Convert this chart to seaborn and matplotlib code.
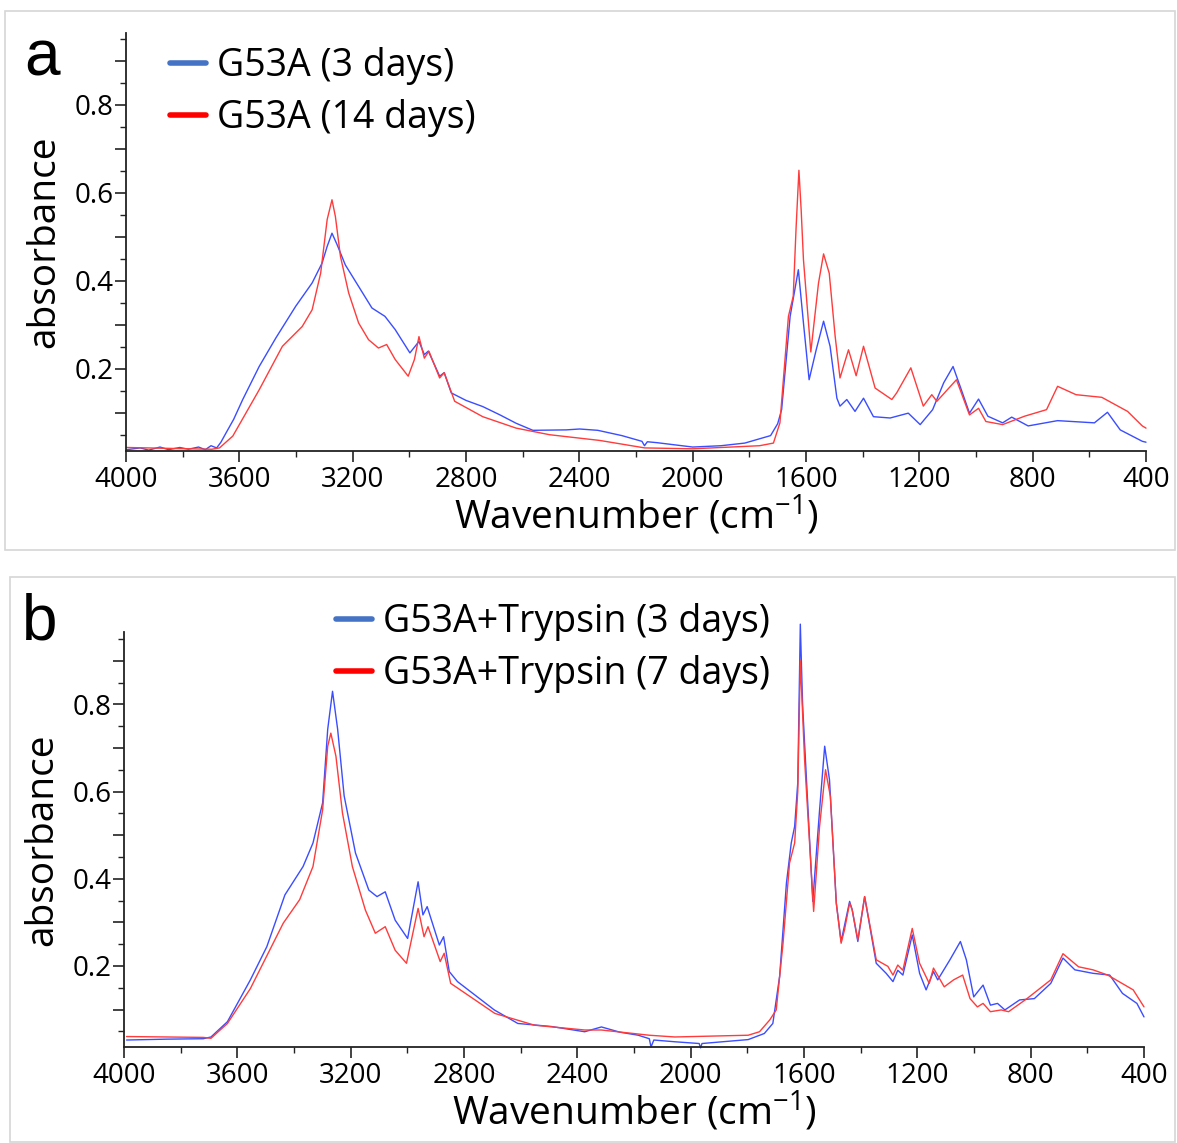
import matplotlib
matplotlib.use("Agg")
import matplotlib.pyplot as plt
from matplotlib.patches import Rectangle
from matplotlib.lines import Line2D
from matplotlib.ticker import MultipleLocator, FixedFormatter, FixedLocator
import seaborn as sns
import pandas as pd

# panel a: G53A, 3 days vs 14 days
a_blue_wn = [3998, 3950, 3920, 3880, 3850, 3810, 3780, 3744, 3720, 3700, 3680, 3665, 3647, 3620, 3588,
             3530, 3471, 3401, 3343, 3308, 3290, 3273, 3255, 3226, 3179, 3132, 3086, 3050, 2998, 2966,
             2947, 2933, 2893, 2877, 2852, 2800, 2741, 2680, 2623, 2564, 2446, 2399, 2335, 2250, 2179,
             2170, 2160, 2127, 2000, 1900, 1816, 1725, 1700, 1686, 1656, 1627, 1609, 1589, 1564, 1538,
             1515, 1491, 1480, 1456, 1427, 1397, 1362, 1303, 1239, 1197, 1153, 1114, 1081, 1056, 1023,
             991, 958, 906, 874, 816, 712, 582, 536, 491, 413, 400]
a_blue_abs = [0.016, 0.020, 0.015, 0.022, 0.016, 0.021, 0.017, 0.022, 0.016, 0.025, 0.020, 0.033, 0.054,
              0.085, 0.130, 0.205, 0.270, 0.342, 0.395, 0.440, 0.478, 0.508, 0.482, 0.436, 0.387, 0.338,
              0.319, 0.289, 0.236, 0.262, 0.232, 0.240, 0.183, 0.191, 0.145, 0.128, 0.114, 0.095, 0.076,
              0.060, 0.061, 0.063, 0.060, 0.048, 0.035, 0.025, 0.034, 0.032, 0.022, 0.025, 0.031, 0.048,
              0.075, 0.107, 0.319, 0.425, 0.304, 0.175, 0.243, 0.308, 0.251, 0.133, 0.115, 0.130, 0.103,
              0.133, 0.091, 0.088, 0.099, 0.073, 0.107, 0.168, 0.205, 0.160, 0.099, 0.131, 0.092, 0.077,
              0.090, 0.070, 0.082, 0.077, 0.101, 0.061, 0.035, 0.033]

a_red_wn = [3998, 3850, 3697, 3670, 3623, 3530, 3448, 3378, 3343, 3313, 3290, 3273, 3261, 3243, 3214,
            3179, 3144, 3109, 3080, 3050, 3004, 2982, 2966, 2947, 2931, 2893, 2877, 2840, 2741, 2623,
            2505, 2328, 2169, 2000, 1764, 1715, 1692, 1662, 1645, 1635, 1625, 1617, 1609, 1583, 1556,
            1538, 1518, 1497, 1480, 1450, 1423, 1397, 1356, 1297, 1280, 1230, 1186, 1156, 1138, 1069,
            1023, 991, 965, 906, 829, 751, 712, 647, 556, 465, 413, 400]
a_red_abs = [0.021, 0.019, 0.017, 0.020, 0.047, 0.152, 0.251, 0.296, 0.334, 0.417, 0.539, 0.584, 0.546,
             0.455, 0.372, 0.304, 0.266, 0.247, 0.255, 0.221, 0.183, 0.221, 0.273, 0.224, 0.240, 0.179,
             0.191, 0.126, 0.091, 0.065, 0.050, 0.037, 0.020, 0.018, 0.025, 0.031, 0.077, 0.319, 0.365,
             0.520, 0.651, 0.560, 0.448, 0.238, 0.394, 0.461, 0.417, 0.273, 0.179, 0.243, 0.184, 0.251,
             0.156, 0.130, 0.145, 0.202, 0.115, 0.141, 0.126, 0.175, 0.095, 0.110, 0.080, 0.073, 0.092,
             0.107, 0.160, 0.141, 0.135, 0.103, 0.070, 0.065]

# panel b: G53A+Trypsin, 3 days vs 7 days
b_blue_wn = [3991, 3850, 3720, 3693, 3635, 3554, 3496, 3432, 3368, 3333, 3299, 3281, 3264, 3246, 3223,
             3183, 3136, 3107, 3078, 3043, 2999, 2962, 2945, 2930, 2887, 2872, 2852, 2823, 2693, 2610,
             2492, 2374, 2315, 2250, 2185, 2146, 2140, 2130, 2056, 1970, 1965, 1960, 1797, 1740, 1710,
             1686, 1662, 1645, 1633, 1622, 1613, 1605, 1598, 1569, 1545, 1527, 1510, 1486, 1469, 1439,
             1430, 1410, 1386, 1345, 1310, 1286, 1269, 1251, 1218, 1192, 1169, 1143, 1128, 1085, 1048,
             1027, 1001, 968, 942, 917, 891, 839, 787, 729, 686, 644, 580, 521, 476, 425, 400]
b_blue_abs = [0.030, 0.032, 0.033, 0.037, 0.072, 0.168, 0.244, 0.363, 0.428, 0.482, 0.574, 0.743, 0.830,
              0.743, 0.590, 0.459, 0.374, 0.359, 0.370, 0.305, 0.263, 0.393, 0.317, 0.336, 0.248, 0.267,
              0.187, 0.164, 0.099, 0.068, 0.061, 0.049, 0.060, 0.048, 0.041, 0.033, 0.014, 0.030, 0.026,
              0.022, 0.012, 0.022, 0.031, 0.045, 0.068, 0.176, 0.390, 0.482, 0.520, 0.620, 0.984, 0.800,
              0.712, 0.348, 0.558, 0.704, 0.627, 0.344, 0.256, 0.348, 0.329, 0.256, 0.359, 0.206, 0.183,
              0.164, 0.190, 0.179, 0.271, 0.183, 0.145, 0.187, 0.168, 0.214, 0.256, 0.214, 0.129, 0.156,
              0.110, 0.114, 0.099, 0.122, 0.125, 0.160, 0.218, 0.191, 0.183, 0.179, 0.137, 0.114, 0.083]

b_red_wn = [3991, 3850, 3720, 3693, 3635, 3554, 3438, 3380, 3333, 3299, 3281, 3270, 3252, 3229, 3194,
            3148, 3113, 3078, 3043, 3003, 2962, 2941, 2927, 2884, 2870, 2847, 2691, 2551, 2374, 2315,
            2146, 2056, 1797, 1757, 1721, 1698, 1674, 1651, 1633, 1622, 1613, 1605, 1598, 1566, 1545,
            1524, 1507, 1486, 1469, 1457, 1439, 1430, 1410, 1386, 1345, 1304, 1286, 1269, 1251, 1218,
            1192, 1158, 1143, 1105, 1072, 1040, 1014, 988, 968, 942, 904, 878, 813, 729, 686, 631, 580,
            528, 438, 400]
b_red_abs = [0.038, 0.037, 0.036, 0.034, 0.068, 0.148, 0.298, 0.352, 0.428, 0.558, 0.704, 0.734, 0.681,
             0.551, 0.428, 0.328, 0.275, 0.290, 0.236, 0.206, 0.332, 0.267, 0.290, 0.210, 0.229, 0.160,
             0.091, 0.064, 0.053, 0.053, 0.041, 0.037, 0.041, 0.049, 0.076, 0.099, 0.252, 0.436, 0.482,
             0.600, 0.900, 0.780, 0.674, 0.325, 0.520, 0.650, 0.589, 0.344, 0.252, 0.283, 0.344, 0.329,
             0.260, 0.359, 0.214, 0.199, 0.179, 0.202, 0.190, 0.286, 0.206, 0.160, 0.195, 0.152, 0.168,
             0.179, 0.125, 0.106, 0.114, 0.095, 0.099, 0.095, 0.125, 0.168, 0.228, 0.198, 0.191, 0.179,
             0.145, 0.106]

a_labels = ["G53A (3 days)", "G53A (14 days)"]
b_labels = ["G53A+Trypsin (3 days)", "G53A+Trypsin (7 days)"]

W, H = 1177, 1143
sns.set_style("white")
plt.rcParams['font.family'] = ['Open Sans', 'DejaVu Sans']
plt.rcParams['mathtext.fontset'] = 'custom'
plt.rcParams['mathtext.rm'] = 'Open Sans'
plt.rcParams['mathtext.it'] = 'Open Sans'
plt.rcParams['text.color'] = 'black'
plt.rcParams['axes.labelcolor'] = 'black'
plt.rcParams['xtick.color'] = 'black'
plt.rcParams['ytick.color'] = 'black'

fig = plt.figure(figsize=(W / 100, H / 100), dpi=100)

line_blue = "#3a4dff"
line_red = "#ff3b3b"
leg_blue = "#4472c4"
leg_red = "#ff0000"


def px(x0, y0, x1, y1):
    # pixel box (top-left origin) -> figure fraction rect
    return [x0 / W, 1 - y1 / H, (x1 - x0) / W, (y1 - y0) / H]


def draw_panel(rect, frame, blue, red, labels, ylim, letter, letter_xy, leg_xy, spine_top):
    fig.add_artist(Rectangle((frame[0], frame[1]), frame[2], frame[3], transform=fig.transFigure,
                             fill=False, ec="#d6d6d6", lw=1.2))
    ax = fig.add_axes(rect)
    df = pd.concat([
        pd.DataFrame({"wn": blue[0], "abs": blue[1], "s": labels[0]}),
        pd.DataFrame({"wn": red[0], "abs": red[1], "s": labels[1]}),
    ])
    sns.lineplot(data=df, x="wn", y="abs", hue="s", palette=[line_blue, line_red],
                 estimator=None, sort=False, lw=1.0, legend=False, ax=ax, clip_on=False)
    ax.set_xlim(4000, 400)
    ax.set_ylim(*ylim)
    for s in ["top", "right"]:
        ax.spines[s].set_visible(False)
    for s in ["left", "bottom"]:
        ax.spines[s].set_color("#222222")
        ax.spines[s].set_linewidth(1.3)
    ax.spines["left"].set_bounds(ylim[0], spine_top)
    ax.xaxis.set_major_locator(MultipleLocator(400))
    ax.xaxis.set_minor_locator(MultipleLocator(200))
    ax.yaxis.set_major_locator(FixedLocator([0.1, 0.2, 0.3, 0.4, 0.5, 0.6, 0.7, 0.8, 0.9]))
    ax.yaxis.set_major_formatter(FixedFormatter(["", "0.2", "", "0.4", "", "0.6", "", "0.8", ""]))
    ax.yaxis.set_minor_locator(MultipleLocator(0.05))
    ax.tick_params(axis="both", which="major", direction="out", length=8, width=1.2,
                   color="#222222", labelsize=20, bottom=True, left=True)
    ax.tick_params(axis="both", which="minor", direction="out", length=4, width=1.0,
                   color="#222222", bottom=True, left=True)
    ax.tick_params(axis="y", pad=1)
    ax.tick_params(axis="x", pad=3)
    ax.set_xlabel("Wavenumber (cm$^{-1}$)", fontsize=28, labelpad=0)
    ax.set_ylabel("absorbance", fontsize=28, labelpad=8)
    fig.text(letter_xy[0] / W, 1 - letter_xy[1] / H, letter, fontsize=46,
             family="Liberation Sans", ha="center", va="baseline")
    handles = [Line2D([], [], color=leg_blue, lw=4), Line2D([], [], color=leg_red, lw=4)]
    fig.legend(handles, labels, loc="upper left",
               bbox_to_anchor=(leg_xy[0] / W, 1 - leg_xy[1] / H), frameon=False,
               fontsize=27, handlelength=0.95, handletextpad=0.3, labelspacing=0.38,
               borderpad=0, borderaxespad=0)
    return ax


draw_panel(px(126, 33, 1146, 451), (5 / W, 1 - 550 / H, 1170 / W, 539 / H),
           (a_blue_wn, a_blue_abs), (a_red_wn, a_red_abs), a_labels,
           (0.013, 0.963), "a", (42, 76), (170, 47), 0.963)

draw_panel(px(124, 632, 1144, 1047), (10 / W, 1 - 1142 / H, 1165 / W, 565 / H),
           (b_blue_wn, b_blue_abs), (b_red_wn, b_red_abs), b_labels,
           (0.014, 0.966), "b", (40, 640), (336, 603), 0.966)

fig.savefig("out.png", dpi=100, facecolor="white")
